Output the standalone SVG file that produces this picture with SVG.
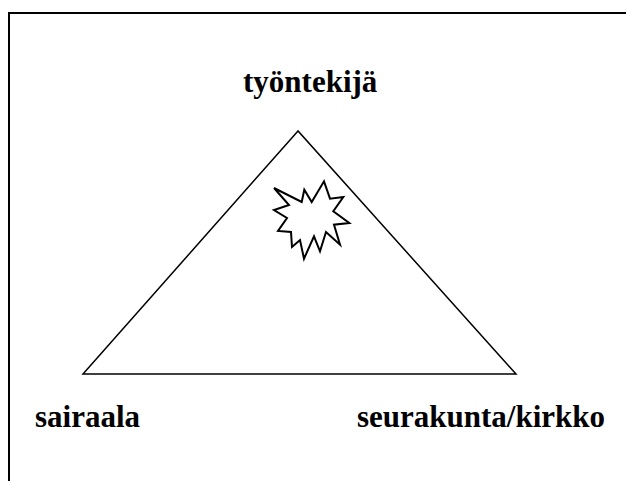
<svg xmlns="http://www.w3.org/2000/svg" width="626" height="481" viewBox="0 0 626 481">
<style>
.lbl{font-family:"Liberation Serif","Times New Roman",serif;font-weight:bold;font-size:31px;fill:#000}
.shape{fill:#fff;stroke:#000;stroke-linejoin:miter}
</style>
<rect width="626" height="481" fill="#fff"/>
<g id="frame">
<polyline points="9,481 9,13 626,13" fill="none" stroke="#000" stroke-width="2"/>
</g>
<g id="triangle">
<polygon class="shape" stroke-width="1.5" points="298,131 83,374 516,374"/>
</g>
<g id="star">
<polygon class="shape" stroke-width="2" points="274,188 301.7,202 304.3,189.7 311.7,202 324,181.3 330,198.7 343.3,197 333.3,211.3 349.3,223 334,224.7 340,244.7 326,232 320,251.3 314,236.3 304,258.7 300,240 292,247 291,232 278,231 287,218 274,210 289,205"/>
</g>
<g id="labels">
<text id="tyontekija" class="lbl" x="243" y="92">työntekijä</text>
<text id="sairaala" class="lbl" x="35" y="427">sairaala</text>
<text id="seurakunta" class="lbl" x="357" y="427">seurakunta/kirkko</text>
</g>
</svg>
